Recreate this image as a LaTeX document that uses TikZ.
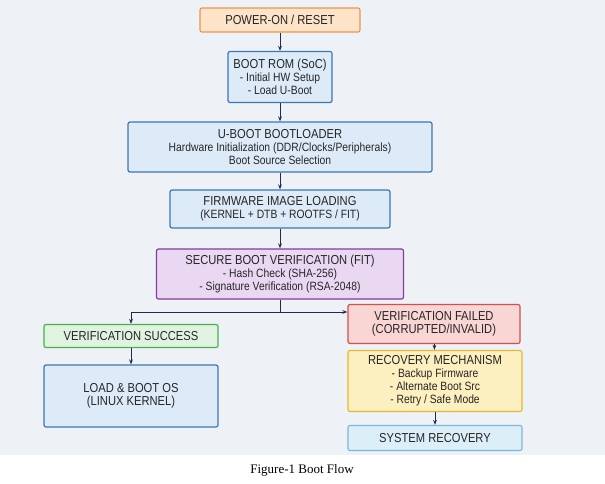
\documentclass[tikz,border=0pt]{standalone}
\usepackage{fontspec}
\setmainfont{Liberation Sans}[FakeStretch=0.86]
\newfontfamily\capfont{Liberation Serif}
\usetikzlibrary{arrows.meta, positioning}
\definecolor{bgcol}{RGB}{238,241,245}
\definecolor{arrowcol}{RGB}{30,45,75}
\definecolor{orangefill}{RGB}{253,227,200}
\definecolor{orangeline}{RGB}{232,150,80}
\definecolor{bluefill}{RGB}{220,235,247}
\definecolor{blueline}{RGB}{60,120,180}
\definecolor{purplefill}{RGB}{234,216,242}
\definecolor{purpleline}{RGB}{130,60,155}
\definecolor{greenfill}{RGB}{224,243,224}
\definecolor{greenline}{RGB}{76,175,80}
\definecolor{redfill}{RGB}{249,214,211}
\definecolor{redline}{RGB}{210,80,75}
\definecolor{yellowfill}{RGB}{253,240,192}
\definecolor{yellowline}{RGB}{232,184,48}
\definecolor{lightfill}{RGB}{220,238,248}
\definecolor{lightline}{RGB}{122,184,220}
\newcommand{\boxtitle}{\fontsize{13}{14}\selectfont}
\tikzset{stepbox/.style={rectangle, rounded corners=2pt, line width=1.2pt, align=center, inner sep=1pt, text=black!85, font=\fontsize{12}{13}\selectfont},
flowarrow/.style={-{Stealth[length=5pt]}, line width=1pt, draw=arrowcol}}

\begin{document}
\begin{tikzpicture}[x=1pt, y=-1pt]
        % Background
        \useasboundingbox (0,0) rectangle (605,484);
        \fill[bgcol] (0,0) rectangle (605,455);
        % Main chain
        \node[stepbox, fill=orangefill, draw=orangeline, minimum width=160pt, minimum height=24pt] (power) at (280,20) {\boxtitle POWER-ON / RESET};
        \node[stepbox, fill=bluefill, draw=blueline, minimum width=104pt, minimum height=51pt] (bootrom) at (280,77) {{\boxtitle BOOT ROM (SoC)}\\- Initial HW Setup\\- Load U-Boot};
        \node[stepbox, fill=bluefill, draw=blueline, minimum width=304pt, minimum height=50pt] (uboot) at (280,147) {{\boxtitle U-BOOT BOOTLOADER}\\Hardware Initialization (DDR/Clocks/Peripherals)\\Boot Source Selection};
        \node[stepbox, fill=bluefill, draw=blueline, minimum width=220pt, minimum height=38pt] (firmware) at (280,209) {{\boxtitle FIRMWARE IMAGE LOADING}\\(KERNEL + DTB + ROOTFS / FIT)};
        \node[stepbox, fill=purplefill, draw=purpleline, minimum width=247pt, minimum height=50pt] (secure) at (280,274) {{\boxtitle SECURE BOOT VERIFICATION (FIT)}\\- Hash Check (SHA-256)\\- Signature Verification (RSA-2048)};
        % Success branch
        \node[stepbox, fill=greenfill, draw=greenline, minimum width=174pt, minimum height=23pt] (success) at (131,336) {\boxtitle VERIFICATION SUCCESS};
        \node[stepbox, fill=bluefill, draw=blueline, minimum width=174pt, minimum height=62pt] (loados) at (131,396) {{\boxtitle LOAD \& BOOT OS}\\{\boxtitle (LINUX KERNEL)}};
        % Failure branch
        \node[stepbox, fill=redfill, draw=redline, minimum width=172pt, minimum height=39pt] (failed) at (434,324) {{\boxtitle VERIFICATION FAILED}\\{\boxtitle (CORRUPTED/INVALID)}};
        \node[stepbox, fill=yellowfill, draw=yellowline, minimum width=174pt, minimum height=61pt] (recovery) at (435,381) {{\boxtitle RECOVERY MECHANISM}\\- Backup Firmware\\- Alternate Boot Src\\- Retry / Safe Mode};
        \node[stepbox, fill=lightfill, draw=lightline, minimum width=174pt, minimum height=25pt] (sysrec) at (435,438) {\boxtitle SYSTEM RECOVERY};
        \coordinate (split) at (280,312);
        % Arrows
        \draw[flowarrow] (power) -- (bootrom);
        \draw[flowarrow] (bootrom) -- (uboot);
        \draw[flowarrow] (uboot) -- (firmware);
        \draw[flowarrow] (firmware) -- (secure);
        \draw[line width=1pt, draw=arrowcol] (secure) -- (split);
        \draw[flowarrow] (split) -| (success);
        \draw[flowarrow] (split) -- (split -| failed.west);
        \draw[flowarrow] (success) -- (loados);
        \draw[flowarrow] (failed) -- (recovery);
        \draw[flowarrow] (recovery) -- (sysrec);
        % Caption
        \node[font=\capfont\fontsize{13}{15}\selectfont] (caption) at (302,470) {Figure-1 Boot Flow};
\end{tikzpicture}
\end{document}
